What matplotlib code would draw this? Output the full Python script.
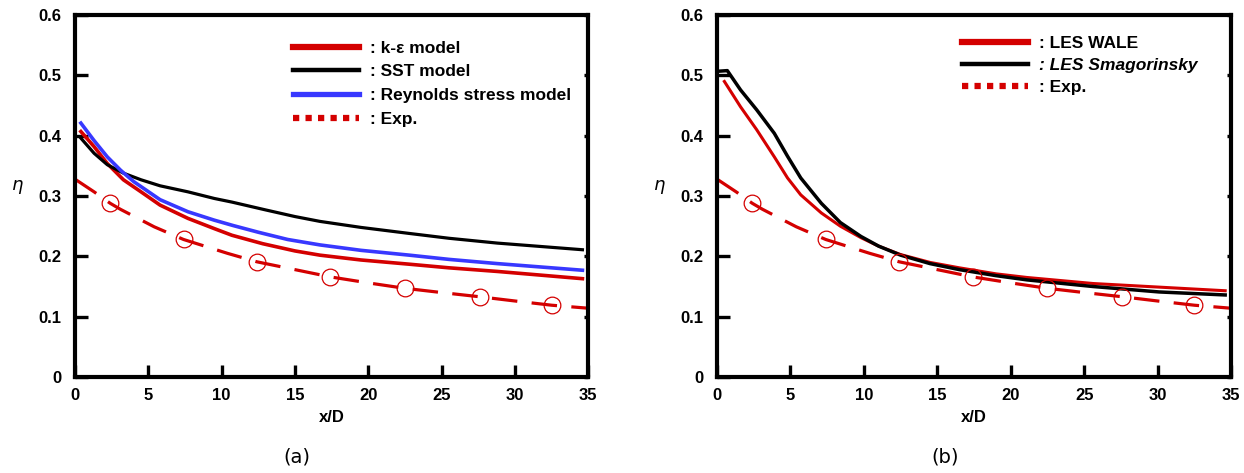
import numpy as np
import matplotlib.pyplot as plt
from matplotlib.lines import Line2D

plt.rcParams['font.family'] = ['Liberation Sans', 'DejaVu Sans']

# 实验值 (Exp.)
x_exp = [0, 1.3, 2.4, 3.1, 5.4, 7.4, 10.4, 12.4, 15, 17.4, 20, 22.5, 25, 27.6,
         30, 32.5, 35]
y_exp = [0.328, 0.307, 0.288, 0.278, 0.249, 0.228, 0.205, 0.191, 0.178, 0.166,
         0.156, 0.147, 0.140, 0.133, 0.126, 0.119, 0.114]
x_pts = [2.4, 7.4, 12.4, 17.4, 22.5, 27.6, 32.5]
y_pts = [0.288, 0.228, 0.191, 0.166, 0.147, 0.133, 0.119]

# (a) RANS
x_ke = [0.4, 1.3, 2.2, 3.3, 4.5, 5.8, 7.7, 9.5, 10.7, 12.8, 15, 16.7, 19.5,
        22.8, 25.5, 28.8, 34.6]
y_ke = [0.407, 0.382, 0.354, 0.327, 0.307, 0.285, 0.263, 0.246, 0.235, 0.221,
        0.209, 0.202, 0.194, 0.187, 0.181, 0.175, 0.163]
x_sst = [0.4, 1.3, 2.2, 3.3, 4.5, 5.8, 7.7, 9.5, 10.7, 13, 15, 16.7, 19.5, 22.8,
         25.5, 28.8, 34.6]
y_sst = [0.396, 0.371, 0.352, 0.338, 0.327, 0.317, 0.307, 0.296, 0.290, 0.277,
         0.266, 0.258, 0.248, 0.238, 0.230, 0.222, 0.211]
x_rsm = [0.4, 1.3, 2.2, 3.1, 4.0, 5.8, 7.7, 9.5, 10.8, 12.5, 14.5, 16.7, 19.5,
         22.8, 25.5, 28.8, 34.6]
y_rsm = [0.421, 0.392, 0.365, 0.343, 0.324, 0.294, 0.274, 0.260, 0.251, 0.240,
         0.228, 0.219, 0.210, 0.202, 0.195, 0.188, 0.177]

# (b) LES
x_wale = [0.5, 1.6, 2.7, 3.9, 4.8, 5.7, 7.1, 8.4, 9.8, 11, 12.5, 14.5, 16.5,
          19, 21.1, 25.6, 30.1, 34.6]
y_wale = [0.490, 0.448, 0.410, 0.365, 0.330, 0.302, 0.272, 0.250, 0.231, 0.217,
          0.203, 0.190, 0.181, 0.171, 0.165, 0.155, 0.149, 0.143]
x_smag = [0.1, 0.7, 1.6, 2.7, 3.9, 4.8, 5.7, 7.1, 8.4, 9.8, 11, 12.5, 14.5,
          16.5, 19, 21.1, 25.6, 30.1, 34.6]
y_smag = [0.507, 0.508, 0.476, 0.443, 0.404, 0.366, 0.330, 0.288, 0.256, 0.233,
          0.217, 0.202, 0.188, 0.178, 0.168, 0.161, 0.150, 0.141, 0.136]

red = '#d40000'
blue = '#3838ff'
xticks = [0, 5, 10, 15, 20, 25, 30, 35]
yticks = [0, 0.1, 0.2, 0.3, 0.4, 0.5, 0.6]
ylabels = ['0', '0.1', '0.2', '0.3', '0.4', '0.5', '0.6']

fig = plt.figure(figsize=(12.44, 4.73), dpi=100)
ax1 = fig.add_axes([0.0603, 0.203, 0.4126, 0.765])
ax2 = fig.add_axes([0.5764, 0.203, 0.4132, 0.765])


def draw_exp(ax):
    ax.plot(x_exp, y_exp, color=red, lw=2.3, dashes=(8, 4.5))
    ax.plot(x_pts, y_pts, 'o', mfc='none', mec=red, ms=12, mew=0.9)


def style(ax, cap, cx):
    ax.set_xlim(0, 35)
    ax.set_ylim(0, 0.6)
    ax.set_xticks(xticks)
    ax.set_yticks(yticks)
    ax.set_yticklabels(ylabels)
    for s in ax.spines.values():
        s.set_linewidth(3.0)
    ax.tick_params(direction='in', length=9, width=2.4, labelsize=12)
    ax.tick_params(axis='y', pad=10)
    ax.tick_params(axis='x', pad=8)
    ax.tick_params(axis='y', which='major', right=True)
    for t in ax.yaxis.get_major_ticks():
        t.tick2line.set_markersize(3)
    for lab in ax.get_xticklabels() + ax.get_yticklabels():
        lab.set_fontweight('bold')
    ax.set_xlabel('x/D', fontsize=12, fontweight='bold', labelpad=5)
    ax.set_ylabel(r'$\eta$', fontsize=13, rotation=0)
    ax.yaxis.set_label_coords(-0.113, 0.5)
    ax.text(cx, -0.221, cap, transform=ax.transAxes, ha='center', va='center',
            fontsize=14, family='DejaVu Sans')


# (a)
ax1.plot(x_ke, y_ke, color=red, lw=2.6)
ax1.plot(x_sst, y_sst, color='black', lw=2.3)
ax1.plot(x_rsm, y_rsm, color=blue, lw=2.6)
draw_exp(ax1)
style(ax1, '(a)', 0.433)
h1 = [Line2D([], [], color=red, lw=4.5),
      Line2D([], [], color='black', lw=3.2),
      Line2D([], [], color=blue, lw=3.8),
      Line2D([], [], color=red, lw=4.5, linestyle=(0, (1, 1)))]
ax1.legend(h1, [': k-\u03b5 model', ': SST model', ': Reynolds stress model', ': Exp.'],
           loc='upper left', bbox_to_anchor=(0.425, 0.93), frameon=False,
           borderaxespad=0, borderpad=0,
           handlelength=3.8, handletextpad=0.6, labelspacing=0.5,
           prop={'weight': 'bold', 'size': 12.5})

# (b)
ax2.plot(x_wale, y_wale, color=red, lw=2.2)
ax2.plot(x_smag, y_smag, color='black', lw=2.5)
draw_exp(ax2)
style(ax2, '(b)', 0.444)
h2 = [Line2D([], [], color=red, lw=4.5),
      Line2D([], [], color='black', lw=3.2),
      Line2D([], [], color=red, lw=4.5, linestyle=(0, (1, 1)))]
leg2 = ax2.legend(h2, [': LES WALE', ': LES Smagorinsky', ': Exp.'],
                  loc='upper left', bbox_to_anchor=(0.477, 0.942), frameon=False,
                  borderaxespad=0, borderpad=0,
                  handlelength=3.8, handletextpad=0.6, labelspacing=0.4,
                  prop={'weight': 'bold', 'size': 12.5})
leg2.get_texts()[1].set_style('italic')

fig.savefig('out.png', dpi=100)
